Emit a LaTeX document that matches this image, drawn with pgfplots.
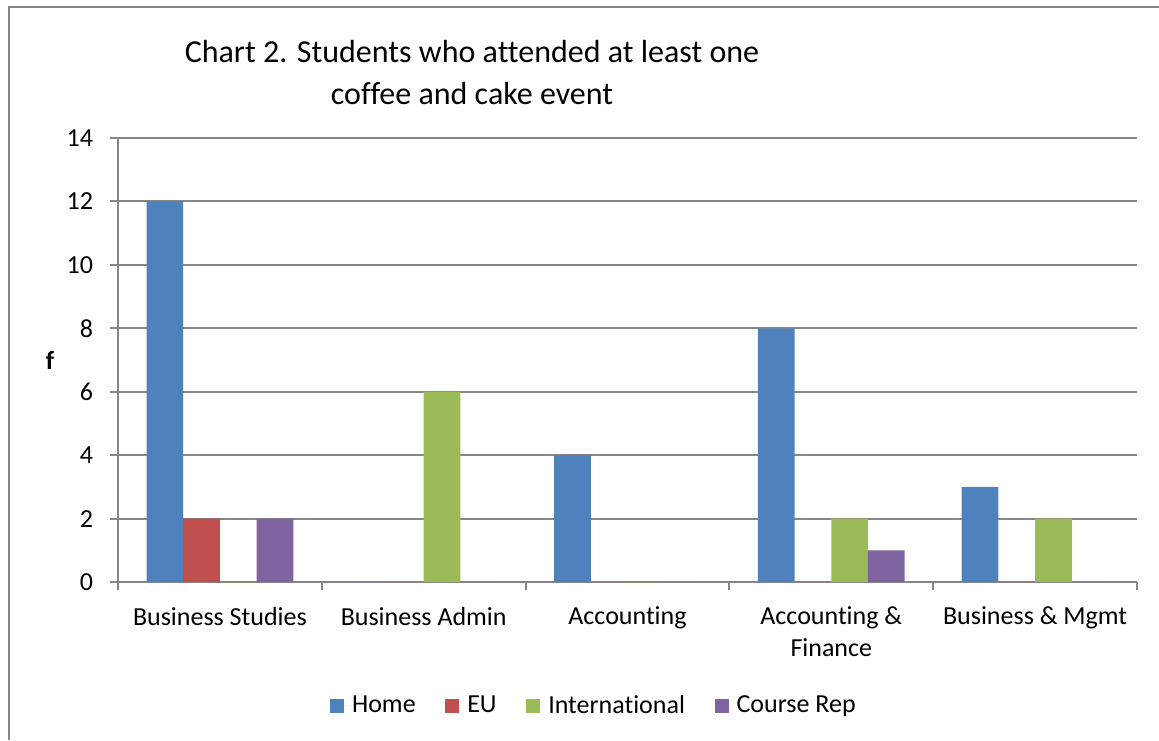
\documentclass[border=0pt]{standalone}
\usepackage{fontspec}
\setmainfont[Ligatures=NoCommon]{Carlito}
\usepackage{pgfplots}
\pgfplotsset{compat=1.18}
\definecolor{home}{HTML}{4F81BD}
\definecolor{eu}{HTML}{C0504D}
\definecolor{intl}{HTML}{9BBB59}
\definecolor{rep}{HTML}{8064A2}
\definecolor{gridc}{HTML}{868686}
\begin{document}
\begin{tikzpicture}
\useasboundingbox (0pt,0pt) rectangle (579.5pt,370pt);
\draw[gridc, line width=1pt] (4.25pt,0pt) -- (4.25pt,366.5pt) -- (579.5pt,366.5pt);
\begin{axis}[
  at={(59pt,79pt)}, anchor=south west,
  width=509.5pt, height=222pt, scale only axis,
  xmin=-0.5, xmax=4.5, ymin=0, ymax=14,
  ytick={0,2,...,14},
  xtick={0,1,2,3,4},
  xticklabels={Business Studies, Business Admin, Accounting, {Accounting \&\\Finance}, Business \& Mgmt},
  xticklabel style={align=center, yshift=-5pt},
  yticklabel style={xshift=-5pt},
  /pgf/number format/assume math mode=true,
  minor xtick={-0.5,0.5,1.5,2.5,3.5,4.5},
  major x tick style={draw=none},
  tick align=outside, major tick length=4pt, minor tick length=4pt,
  tick style={gridc, line width=1pt},
  axis x line*=bottom, axis y line*=left,
  axis line style={gridc, line width=1pt, -},
  ymajorgrids, grid style={gridc, line width=1pt},
  ybar=0pt, bar width=0.18,
  tick label style={font=\fontsize{13}{16}\selectfont},
  ylabel={\textbf{f}},
  ylabel style={rotate=-90, at={(axis description cs:-0.0667,0.5)}, anchor=center, font=\fontsize{13}{16}\selectfont},
  title={Chart 2. Students who attended at least one\\coffee and cake event},
  title style={align=center, font=\fontsize{16}{21}\selectfont, at={(axis description cs:0.3474,1.12)}, anchor=center},
  legend style={at={(axis description cs:0.468,-0.279)}, anchor=center, draw=none, legend columns=-1,
    font=\fontsize{13}{16}\selectfont,
    /tikz/every even column/.append style={column sep=12.8pt}},
  legend image code/.code={\fill[#1] (0pt,-3.5pt) rectangle (7pt,3.5pt); \path (0pt,0pt) -- (9pt,0pt);},
]
\addplot[fill=home, draw=none] coordinates {(0,12) (1,0) (2,4) (3,8) (4,3)};
\addplot[fill=eu, draw=none] coordinates {(0,2) (1,0) (2,0) (3,0) (4,0)};
\addplot[fill=intl, draw=none] coordinates {(0,0) (1,6) (2,0) (3,2) (4,2)};
\addplot[fill=rep, draw=none] coordinates {(0,2) (1,0) (2,0) (3,1) (4,0)};
\legend{Home, EU, International, Course Rep}
\end{axis}
\end{tikzpicture}
\end{document}
